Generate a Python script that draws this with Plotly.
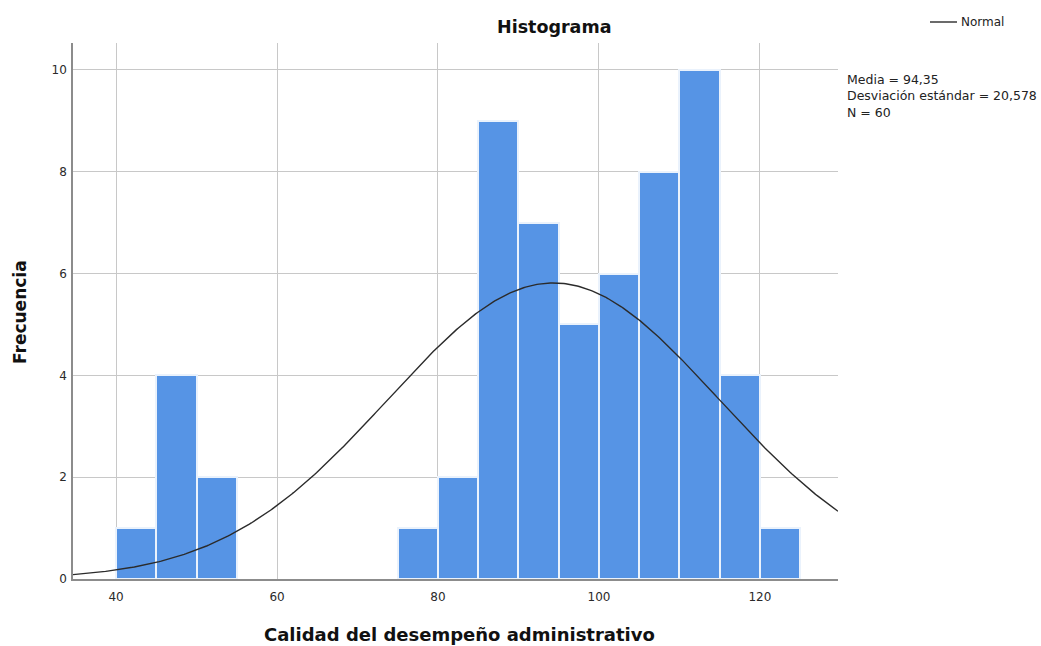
import numpy as np
import plotly.graph_objects as go

# Data
bin_start = [40, 45, 50, 75, 80, 85, 90, 95, 100, 105, 110, 115, 120]
frecuencia = [1, 4, 2, 1, 2, 9, 7, 5, 6, 8, 10, 4, 1]
bin_width = 5
media = 94.35
desv = 20.578
n_total = 60
x_ticks = [40, 60, 80, 100, 120]
y_ticks = [0, 2, 4, 6, 8, 10]

x_range = [34.65, 129.7]
y_range = [0, 10.53]

centers = [b + bin_width / 2 for b in bin_start]

# Normal curve scaled to counts (N * bin width * pdf)
xc = np.linspace(x_range[0], x_range[1], 400)
yc = n_total * bin_width / (desv * np.sqrt(2 * np.pi)) * np.exp(-0.5 * ((xc - media) / desv) ** 2)

W, H = 1041, 646
L, R, T, B = 73, 838, 43, 579
pw, ph = R - L, B - T


def px(xp):
    return (xp - L) / pw


def py(yp):
    return (B - yp) / ph


fig = go.Figure()
fig.add_trace(go.Bar(
    x=centers, y=frecuencia, width=bin_width,
    marker=dict(color="#5694E5", line=dict(color="#EAF2FC", width=2)),
    showlegend=False, hoverinfo="x+y",
))
fig.add_trace(go.Scatter(
    x=xc, y=yc, mode="lines", name="Normal", showlegend=False,
    line=dict(color="#2b2b2b", width=1.4),
))

font_family = "DejaVu Sans, Arial, sans-serif"
fig.update_layout(
    width=W, height=H,
    margin=dict(l=L, r=W - R, t=T, b=H - B, autoexpand=False),
    paper_bgcolor="white", plot_bgcolor="white",
    font=dict(family=font_family, size=12, color="#222"),
    bargap=0,
    showlegend=False,
    xaxis=dict(range=x_range, tickvals=x_ticks, showgrid=True, gridcolor="#C8C8C8",
               gridwidth=1, showline=True, linecolor="#8c8c8c", linewidth=1.5,
               ticks="", zeroline=False, tickfont=dict(size=12, color="#2a2a2a"),
               ticklabelstandoff=6, automargin=False),
    yaxis=dict(range=y_range, tickvals=y_ticks, showgrid=True, gridcolor="#C8C8C8",
               gridwidth=1, showline=True, linecolor="#8c8c8c", linewidth=1.5,
               ticks="", zeroline=False, tickfont=dict(size=12, color="#2a2a2a"),
               ticklabelstandoff=2, automargin=False),
)

# Title
fig.add_annotation(x=px(554), y=py(27), xref="paper", yref="paper", showarrow=False,
                   xanchor="center", yanchor="middle", text="<b>Histograma</b>",
                   font=dict(size=17.5, color="#111"))
# Axis titles
fig.add_annotation(x=px(459), y=py(634), xref="paper", yref="paper", showarrow=False,
                   xanchor="center", yanchor="middle",
                   text="<b>Calidad del desempeño administrativo</b>",
                   font=dict(size=18, color="#111"))
fig.add_annotation(x=px(20), y=py(312), xref="paper", yref="paper", showarrow=False,
                   xanchor="center", yanchor="middle", textangle=-90,
                   text="<b>Frecuencia</b>", font=dict(size=17, color="#111"))
# Legend (manual)
fig.add_shape(type="line", xref="paper", yref="paper",
              x0=px(930), x1=px(957), y0=py(22), y1=py(22),
              line=dict(color="#2b2b2b", width=1.4))
fig.add_annotation(x=px(959), y=py(22), xref="paper", yref="paper", showarrow=False,
                   xanchor="left", yanchor="middle", text="Normal",
                   font=dict(size=12, color="#222"))
# Stats
fig.add_annotation(
    x=px(845), y=py(70), xref="paper", yref="paper",
    xanchor="left", yanchor="top", align="left", showarrow=False,
    text="Media = 94,35<br>Desviación estándar = 20,578<br>N = 60",
    font=dict(size=12.5, color="#222"),
)

fig.write_html("out.html", config={"displayModeBar": False},
               post_script="document.body.style.margin='0';document.body.style.overflow='hidden';")
